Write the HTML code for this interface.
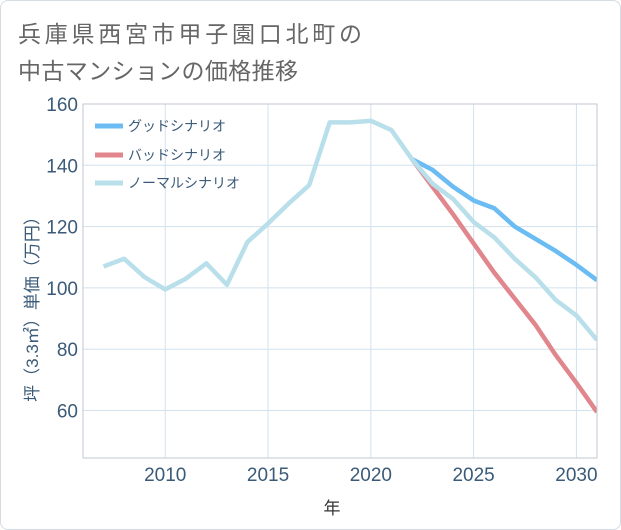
<!DOCTYPE html>
<html><head><meta charset="utf-8"><style>
body{margin:0;background:#fff;font-family:"Liberation Sans","Noto Sans CJK JP",sans-serif;}
#wrap{position:relative;width:619px;height:528px;border:1px solid #d5dce4;border-radius:8px;background:#fff;}
</style></head><body>
<div id="wrap">
<svg id="chart" width="621" height="530" style="position:absolute;left:-1px;top:-1px">
<text x="18" y="42" font-size="23" fill="#666" textLength="344" lengthAdjust="spacing">兵庫県西宮市甲子園口北町の</text>
<text x="18" y="79" font-size="23" fill="#666" textLength="280" lengthAdjust="spacing">中古マンションの価格推移</text>
<g id="grid"></g><g id="series"></g><g id="axes"></g>
<text x="332" y="514" font-size="17" fill="#333" text-anchor="middle">年</text>
<text transform="translate(38,305) rotate(-90)" font-size="17" fill="#3a5a78" text-anchor="middle">坪（3.3㎡）単価（万円）</text>
<g>
<line x1="95" y1="126" x2="123" y2="126" stroke="#6bbcf2" stroke-width="5"/>
<text x="128" y="131" font-size="14" fill="#3a5a78">グッドシナリオ</text>
<line x1="95" y1="155" x2="123" y2="155" stroke="#e0868c" stroke-width="5"/>
<text x="128" y="160" font-size="14" fill="#3a5a78">バッドシナリオ</text>
<line x1="95" y1="183" x2="123" y2="183" stroke="#b8dfea" stroke-width="5"/>
<text x="128" y="188" font-size="14" fill="#3a5a78">ノーマルシナリオ</text>
</g>
</svg>
</div>
<script>
const normalYears=[2007,2008,2009,2010,2011,2012,2013,2014,2015,2016,2017,2018,2019,2020,2021,2022,2023,2024,2025,2026,2027,2028,2029,2030,2031];
const normalValues=[107,109.5,103.5,99.5,103,108,101,115,121,127.5,133.5,154,154,154.5,151.5,142,134,129,121.5,116.5,109.5,103.5,96,91,83];
const forecastYears=[2022,2023,2024,2025,2026,2027,2028,2029,2030,2031];
const goodValues=[142,138.5,133,128.5,126,120,116,112,107.5,102.5];
const badValues=[142,133,124,114.5,105,96.5,88,78,69,59.5];
const xTicks=[2010,2015,2020,2025,2030];
const yTicks=[60,80,100,120,140,160];
const L=83,R=597,T=104,B=458,X0=2006,X1=2031,Y0=44.5,Y1=160;
const x=v=>L+(v-X0)/(X1-X0)*(R-L);
const y=v=>B-(v-Y0)/(Y1-Y0)*(B-T);
const NS="http://www.w3.org/2000/svg";
function mk(tag,attrs,parent){const e=document.createElementNS(NS,tag);for(const k in attrs)e.setAttribute(k,attrs[k]);parent.appendChild(e);return e;}
const grid=document.getElementById('grid'),axes=document.getElementById('axes'),ser=document.getElementById('series');
xTicks.forEach(t=>{
 const l=mk('line',{x1:x(t),x2:x(t),y1:T,y2:B,stroke:'#d3e1ec'},grid);
 
 
 const tx=mk('text',{x:x(t),y:B+23,'font-size':19,fill:'#3a5a78','text-anchor':'middle'},axes);
 tx.textContent=t;
 
 
});
yTicks.forEach(t=>{
 const l=mk('line',{x1:L,x2:R,y1:y(t),y2:y(t),stroke:'#d3e1ec'},grid);
 
 
 const tx=mk('text',{x:L-5,y:y(t)+7,'font-size':19,fill:'#3a5a78','text-anchor':'end'},axes);
 tx.textContent=t;
 
 
});
const fr=mk('rect',{x:L,y:T,width:R-L,height:B-T,fill:'none',stroke:'#c0c8d0'},axes);


function line(xs,vs,color,name){
 const d=xs.map((xv,i)=>(i?'L':'M')+x(xv)+','+y(vs[i])).join(' ');
 const p=mk('path',{d:d,fill:'none',stroke:color,'stroke-width':4.5,'stroke-linejoin':'round'},ser);
 
 
}
const cp=mk('clipPath',{id:'cp'},ser);mk('rect',{x:L,y:T,width:R-L,height:B-T},cp);
ser.setAttribute('clip-path','url(#cp)');
line(forecastYears,goodValues,'#6bbcf2','good-scenario-line');
line(forecastYears,badValues,'#e0868c','bad-scenario-line');
line(normalYears,normalValues,'#b8dfea','normal-scenario-line');
</script>
</body></html>
